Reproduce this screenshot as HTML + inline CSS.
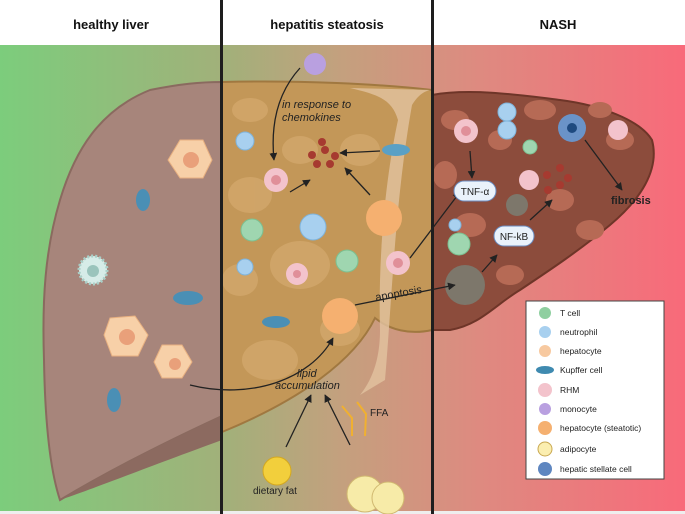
<!DOCTYPE html>
<html><head><style>
html,body{margin:0;padding:0;background:#fff}
svg{display:block}
text{font-family:"Liberation Sans",sans-serif}
</style></head><body>
<svg width="685" height="514" viewBox="0 0 685 514" xmlns="http://www.w3.org/2000/svg">
<defs>
<linearGradient id="bg" x1="0" x2="1" y1="0" y2="0">
<stop offset="0" stop-color="#7ccd7c"/>
<stop offset="0.33" stop-color="#a2b07a"/>
<stop offset="0.5" stop-color="#c4a07e"/>
<stop offset="0.7" stop-color="#de8a80"/>
<stop offset="1" stop-color="#f86a7a"/>
</linearGradient>
<marker id="ar" viewBox="0 0 10 10" refX="9" refY="5" markerWidth="6" markerHeight="6" orient="auto"><path d="M0,0L10,5L0,10z" fill="#222"/></marker>
</defs>
<rect x="0" y="0" width="685" height="514" fill="url(#bg)"/>
<rect x="0" y="0" width="685" height="45" fill="#fff"/>
<rect x="0" y="511" width="685" height="3" fill="#eee"/>
<!-- left liver -->
<path d="M222,82 L222,416 C170,440 110,470 60,500 C50,470 45,420 44,360 C42,300 45,250 60,200 C75,150 100,110 150,90 C180,84 200,82 222,82Z" fill="#a7857b" stroke="#8a6a5f" stroke-width="2"/>
<path d="M222,416 C170,440 110,470 60,500 C90,490 140,470 222,440Z" fill="#8c6a60"/>
<!-- middle liver -->
<path d="M222,82 C300,80 380,84 432,90 L432,330 C410,335 390,330 375,318 C355,360 300,400 222,432Z" fill="#c39758" stroke="#a07840" stroke-width="2"/>
<path d="M350,88 C380,95 392,100 398,120 C385,180 378,260 380,330 C380,360 372,380 360,395 L385,380 C392,300 395,200 412,105 C420,92 428,90 432,90Z" fill="#e2c3a0" opacity="0.8"/>
<g fill="#d3a86c" opacity="0.8">
<ellipse cx="250" cy="195" rx="22" ry="18"/><ellipse cx="300" cy="265" rx="30" ry="24"/><ellipse cx="270" cy="360" rx="28" ry="20"/><ellipse cx="360" cy="150" rx="20" ry="16"/><ellipse cx="240" cy="280" rx="18" ry="16"/><ellipse cx="340" cy="330" rx="20" ry="16"/><ellipse cx="300" cy="150" rx="18" ry="14"/><ellipse cx="250" cy="110" rx="18" ry="12"/>
</g>
<!-- right liver -->
<path d="M432,95 C470,88 520,95 560,100 C600,105 640,120 652,140 C660,170 640,200 610,225 C580,250 550,270 520,290 C495,305 480,325 450,330 L432,330Z" fill="#8c4c3c" stroke="#6e3528" stroke-width="2"/>
<g fill="#b66a55">
<ellipse cx="455" cy="120" rx="14" ry="10"/><ellipse cx="540" cy="110" rx="16" ry="10"/><ellipse cx="620" cy="140" rx="14" ry="10"/><ellipse cx="470" cy="225" rx="16" ry="12"/><ellipse cx="560" cy="200" rx="14" ry="11"/><ellipse cx="590" cy="230" rx="14" ry="10"/><ellipse cx="445" cy="175" rx="12" ry="14"/><ellipse cx="510" cy="275" rx="14" ry="10"/><ellipse cx="600" cy="110" rx="12" ry="8"/><ellipse cx="500" cy="140" rx="12" ry="10"/>
</g>
<!-- dividers -->
<rect x="220" y="0" width="3" height="514" fill="#1e1e1e"/>
<rect x="431" y="0" width="3" height="514" fill="#1e1e1e"/>
<!-- titles -->
<text x="111" y="29" font-size="13" font-weight="bold" text-anchor="middle" fill="#111">healthy liver</text>
<text x="327" y="29" font-size="13" font-weight="bold" text-anchor="middle" fill="#111">hepatitis steatosis</text>
<text x="558" y="29" font-size="13" font-weight="bold" text-anchor="middle" fill="#111">NASH</text>
<!-- left cells -->
<g fill="#f7d0a8" stroke="#e8b080"><polygon points="180,140 203,140 212,160 203,178 180,178 168,160"/><polygon points="110,318 135,316 148,335 138,356 112,356 104,335"/><polygon points="162,345 182,345 192,362 182,378 162,378 154,362"/></g>
<g fill="#e9a07a"><circle cx="191" cy="160" r="8"/><circle cx="127" cy="337" r="8"/><circle cx="175" cy="364" r="6"/></g>
<circle cx="93" cy="270" r="14" fill="#d6ece8" stroke="#a9cfc7" stroke-width="3" stroke-dasharray="2 2"/><circle cx="93" cy="271" r="6" fill="#9ac4bc"/>
<g fill="#4a8fb5"><ellipse cx="143" cy="200" rx="7" ry="11"/><ellipse cx="188" cy="298" rx="15" ry="7"/><ellipse cx="114" cy="400" rx="7" ry="12"/></g>
<!-- middle cells -->
<circle cx="315" cy="64" r="11" fill="#b9a0e0"/>
<g fill="#a8d0ef" stroke="#7fb3da"><circle cx="245" cy="141" r="9"/><circle cx="313" cy="227" r="13"/><circle cx="245" cy="267" r="8"/><circle cx="455" cy="225" r="6"/><circle cx="507" cy="112" r="9"/><circle cx="507" cy="130" r="9"/></g>
<g fill="#9fd6b0" stroke="#7cc090"><circle cx="252" cy="230" r="11"/><circle cx="347" cy="261" r="11"/><circle cx="459" cy="244" r="11"/><circle cx="530" cy="147" r="7"/></g>
<g fill="#f3c3cc"><circle cx="276" cy="180" r="12"/><circle cx="297" cy="274" r="11"/><circle cx="398" cy="263" r="12"/><circle cx="466" cy="131" r="12"/><circle cx="529" cy="180" r="10"/><circle cx="618" cy="130" r="10"/></g>
<g fill="#e08f99"><circle cx="276" cy="180" r="5"/><circle cx="297" cy="274" r="4"/><circle cx="398" cy="263" r="5"/><circle cx="466" cy="131" r="5"/></g>
<g fill="#f5b070"><circle cx="384" cy="218" r="18"/><circle cx="340" cy="316" r="18"/></g>
<g fill="#a63a30"><circle cx="325" cy="150" r="4"/><circle cx="312" cy="155" r="4"/><circle cx="335" cy="156" r="4"/><circle cx="317" cy="164" r="4"/><circle cx="330" cy="164" r="4"/><circle cx="322" cy="142" r="4"/><circle cx="547" cy="175" r="4"/><circle cx="560" cy="168" r="4"/><circle cx="560" cy="185" r="4"/><circle cx="548" cy="190" r="4"/><circle cx="568" cy="178" r="4"/></g>
<ellipse cx="396" cy="150" rx="14" ry="6" fill="#5aa0c5"/><ellipse cx="276" cy="322" rx="14" ry="6" fill="#4a8fb5"/>
<circle cx="572" cy="128" r="14" fill="#6a93c8"/><circle cx="572" cy="128" r="5" fill="#1e4a80"/>
<g fill="#7d776b"><circle cx="517" cy="205" r="11"/><circle cx="465" cy="285" r="20"/></g>
<!-- adipocytes -->
<circle cx="277" cy="471" r="14" fill="#f2cf3c" stroke="#d4a820"/>
<circle cx="365" cy="494" r="18" fill="#f7eba8" stroke="#d0b870"/><circle cx="388" cy="498" r="16" fill="#f7eba8" stroke="#d0b870"/>
<path d="M342,406 l10,12 l0,18 M357,402 l9,12 l-1,22" stroke="#f0b030" stroke-width="2" fill="none"/>
<!-- arrows -->
<g stroke="#222" stroke-width="1.3" fill="none" marker-end="url(#ar)">
<path d="M300,68 C280,90 270,120 274,160"/>
<path d="M290,192 L310,180"/>
<path d="M380,151 L340,153"/>
<path d="M370,195 L345,168"/>
<path d="M286,447 L311,395"/>
<path d="M350,445 L325,395"/>
<path d="M410,258 L460,192"/>
<path d="M355,305 L455,285"/>
<path d="M470,151 L472,178"/>
<path d="M482,272 L497,255"/>
<path d="M530,220 L552,200"/>
<path d="M585,140 L622,190"/>
<path d="M190,385 C250,400 310,380 333,338"/>
</g>
<!-- labels -->
<text x="282" y="108" font-size="11" font-style="italic" fill="#222">in response to</text>
<text x="282" y="121" font-size="11" font-style="italic" fill="#222">chemokines</text>
<text x="376" y="301" font-size="11" fill="#222" transform="rotate(-10 376 301)">apoptosis</text>
<text x="297" y="377" font-size="11" font-style="italic" fill="#222">lipid</text>
<text x="275" y="389" font-size="11" font-style="italic" fill="#222">accumulation</text>
<text x="370" y="416" font-size="10" fill="#222">FFA</text>
<text x="253" y="494" font-size="10" fill="#222">dietary fat</text>
<text x="611" y="204" font-size="11" font-weight="bold" fill="#222">fibrosis</text>
<rect x="454" y="181" width="42" height="20" rx="10" fill="#eaf2fb" stroke="#6b8cc0"/>
<text x="475" y="195" font-size="10" text-anchor="middle" fill="#222">TNF-α</text>
<rect x="494" y="226" width="40" height="20" rx="10" fill="#eaf2fb" stroke="#6b8cc0"/>
<text x="514" y="240" font-size="10" text-anchor="middle" fill="#222">NF-kB</text>
<!-- legend -->
<rect x="526" y="301" width="138" height="178" fill="#fff" stroke="#444"/>
<g font-size="8.5" fill="#222">
<circle cx="545" cy="313" r="6" fill="#8fcfa0"/><text x="560" y="316">T cell</text>
<circle cx="545" cy="332" r="6" fill="#a8d0ef"/><text x="560" y="335">neutrophil</text>
<circle cx="545" cy="351" r="6" fill="#f7c9a0"/><text x="560" y="354">hepatocyte</text>
<ellipse cx="545" cy="370" rx="9" ry="4" fill="#3f8ab0"/><text x="560" y="373">Kupffer cell</text>
<circle cx="545" cy="390" r="7" fill="#f3c3cc"/><text x="560" y="393">RHM</text>
<circle cx="545" cy="409" r="6" fill="#b9a0e0"/><text x="560" y="412">monocyte</text>
<circle cx="545" cy="428" r="7" fill="#f5b070"/><text x="560" y="431">hepatocyte (steatotic)</text>
<circle cx="545" cy="449" r="7" fill="#fbeeb0" stroke="#c9a850"/><text x="560" y="452">adipocyte</text>
<circle cx="545" cy="469" r="7" fill="#5e86c0"/><text x="560" y="472">hepatic stellate cell</text>
</g>
</svg>
</body></html>
